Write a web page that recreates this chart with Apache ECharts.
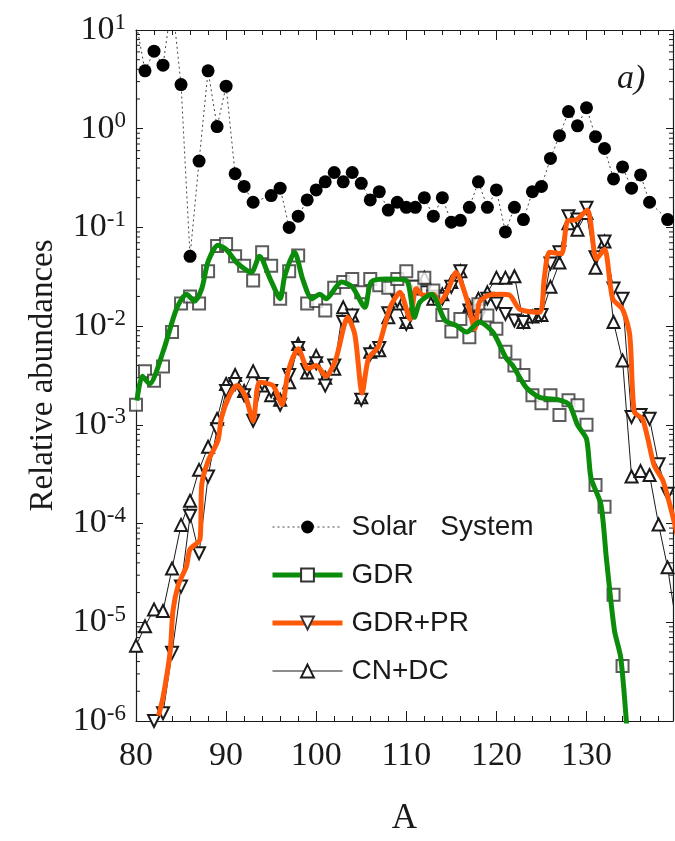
<!DOCTYPE html>
<html>
<head>
<meta charset="utf-8">
<script src="https://cdn.jsdelivr.net/npm/echarts@6/dist/echarts.min.js"></script>
<style>
  html, body { margin: 0; padding: 0; background: #fff; }
  #chart { width: 675px; height: 841px; }
</style>
</head>
<body>
<div id="chart"></div>
<script>
// mass numbers for consecutive runs
function range(a, b) {
    const out = [];
    for (let i = a; i <= b; i++) out.push(i);
    return out;
}

// Solar System abundances (80 and 84 are above the frame)
const solarA = [80, 81, 82, 83, 84, 85, 86, 87, 88, 89, 90, 91, 92, 93,
    95, 96, 97, 98, 99, 100, 101, 102, 103, 104, 105, 106, 107, 108, 109, 110,
    111, 112, 113, 114, 115, 116, 117, 118, 119, 120, 121, 122, 123, 124, 125,
    126, 127, 128, 129, 130, 131, 132, 133, 134, 135, 136, 137, 139, 140];
const solarV = [12, 3.86, 6.1, 4.4, 20, 2.8, 0.051, 0.47, 3.86, 1.05, 2.7, 0.35, 0.26, 0.18,
    0.21, 0.25, 0.10, 0.13, 0.19, 0.24, 0.29, 0.36, 0.29, 0.36, 0.28, 0.19, 0.23, 0.15, 0.18, 0.16,
    0.16, 0.20, 0.13, 0.20, 0.113, 0.118, 0.16, 0.29, 0.16, 0.24, 0.09, 0.16, 0.12, 0.23, 0.26,
    0.50, 0.85, 1.49, 1.07, 1.63, 0.83, 0.63, 0.31, 0.41, 0.25, 0.34, 0.18, 0.12, 0.095];

// GDR points (squares)
const gdrA = range(80, 134);
const gdrV = [1.6e-3, 3.5e-3, 2.8e-3, 3.9e-3, 8.7e-3, 0.017, 0.020, 0.017, 0.036, 0.065,
    0.068, 0.051, 0.041, 0.029, 0.056, 0.041, 0.019, 0.036, 0.052, 0.017,
    0.018, 0.0144, 0.0245, 0.028, 0.030, 0.022, 0.030, 0.026, 0.0245, 0.030,
    0.036, 0.025, 0.031, 0.023, 0.013, 0.0088, 0.0118, 0.0077, 0.0167, 0.0128,
    0.0094, 0.0055, 0.004, 0.0032, 0.002, 0.00166, 0.002, 0.00126, 0.00178, 0.00158,
    0.001, 2.46e-4, 1.48e-4, 1.9e-5, 3.6e-6];

// GDR curve (green)
const gdrLineA = [80.1, 80.7, 81.5, 83, 84.5, 85.6, 86.5, 87.3, 88, 89.1, 90, 91.3, 92.8, 93.7,
    94.9, 96, 96.5, 97.6, 98.5, 99.5, 100.4, 101.1, 102.8, 104, 105.4, 106.1, 107.8, 110,
    110.9, 111.5, 112.8, 114.3, 115.5, 116.7, 118.1, 119.6, 121.1, 121.8, 123.3, 124.8,
    127, 128.1, 129, 130, 130.5, 131.6, 132.2, 133.1, 133.8, 134.5];
const gdrLineV = [1.76e-3, 3.1e-3, 2.6e-3, 5.5e-3, 0.015, 0.021, 0.018, 0.024, 0.045, 0.066, 0.060, 0.043, 0.035, 0.051,
    0.030, 0.019, 0.032, 0.056, 0.030, 0.019, 0.021, 0.019, 0.028, 0.025, 0.0155, 0.028, 0.030, 0.029,
    0.0123, 0.0175, 0.021, 0.0114, 0.0102, 0.0087, 0.011, 0.0087, 0.0047, 0.004, 0.0024, 0.0019,
    0.00178, 0.0016, 0.001, 7.2e-4, 2.9e-4, 1.56e-4, 4.5e-5, 8.3e-6, 4.4e-6, 8e-7];

// GDR+PR points (down triangles)
const prA = range(82, 140);
const prV = [1.0e-6, 1.2e-6, 4.9e-6, 2.3e-5, 1.2e-4, 5e-5, 3e-4, 9e-4,
    2.2e-3, 2.6e-3, 2.0e-3, 1.1e-3, 2.6e-3, 2.2e-3, 1.6e-3, 3.2e-3, 6.0e-3, 3.6e-3,
    4.2e-3, 2.5e-3, 4.0e-3, 0.011, 0.0128, 1.8e-3, 5.2e-3, 6.0e-3, 0.0135, 0.018,
    0.0105, 0.025, 0.022, 0.020, 0.019, 0.025, 0.036, 0.0144, 0.012, 0.019,
    0.017, 0.0133, 0.0114, 0.011, 0.0125, 0.013, 0.043, 0.056, 0.13, 0.12,
    0.158, 0.05, 0.072, 0.024, 0.019, 1.2e-3, 1.26e-3, 1.15e-3, 4e-4, 2e-4, 8e-5];

// GDR+PR curve (orange)
const prLineA = [82.5, 83, 83.8, 84.1, 84.7, 85.6, 86, 87.1, 87.3, 88, 89.1, 89.5, 90.4, 91.2,
    92.1, 93, 93.7, 95.2, 96.2, 96.9, 98, 99.1, 100, 100.4, 101.1, 102.2, 103.5, 104.3,
    105.1, 105.8, 106.9, 108.2, 109.3, 110.4, 111.1, 111.9, 113, 113.7, 114.6, 115.5,
    116.7, 117.6, 118.1, 119.1, 120.4, 121.5, 122.6, 124.8, 125.3, 125.9, 127.2, 127.9,
    128.9, 130.1, 131.1, 132, 132.9, 134, 134.8, 135.3, 136.2, 136.8, 137.5, 138.5, 139.8, 140.5];
const prLineV = [1.13e-6, 1.74e-6, 5.1e-6, 1.3e-5, 2.4e-5, 3.7e-5, 5.5e-5, 6.9e-5, 2.5e-4, 4.3e-4, 7e-4, 1.2e-3, 2.0e-3, 2.5e-3,
    2.0e-3, 1.1e-3, 2.7e-3, 2.5e-3, 1.6e-3, 3.5e-3, 5.9e-3, 3.7e-3, 4.0e-3, 3.7e-3, 3.1e-3, 4.7e-3, 0.0123, 0.0081,
    2.1e-3, 4.7e-3, 6.2e-3, 0.0155, 0.022, 0.0118, 0.024, 0.0205, 0.021, 0.0174, 0.023, 0.035,
    0.019, 0.0094, 0.0174, 0.0205, 0.021, 0.0205, 0.0148, 0.0138, 0.030, 0.056, 0.054, 0.117,
    0.12, 0.15, 0.048, 0.060, 0.019, 0.0148, 8.1e-3, 1.35e-3, 1.15e-3, 7.3e-4, 3.9e-4, 2.7e-4, 9.8e-5, 5e-5];

// CN+DC points (up triangles)
const cnA = range(80, 140);
const cnV = [5.8e-6, 9.1e-6, 1.35e-5, 1.3e-5, 3.5e-5, 9.7e-5, 1.7e-4, 3.5e-4, 6e-4, 1.15e-3,
    2.6e-3, 3.2e-3, 2.2e-3, 3.5e-3, 2.5e-3, 2.0e-3, 1.8e-3, 2.7e-3, 6.6e-3, 3.4e-3,
    5.0e-3, 3.0e-3, 3.7e-3, 0.0155, 0.0128, 1.9e-3, 5.5e-3, 5.7e-3, 0.0123, 0.017,
    0.011, 0.024, 0.031, 0.019, 0.021, 0.028, 0.036, 0.016, 0.019, 0.022,
    0.031, 0.031, 0.032, 0.011, 0.0125, 0.013, 0.025, 0.044, 0.11, 0.095,
    0.14, 0.039, 0.072, 0.011, 4.5e-3, 3.0e-4, 3.4e-4, 3.1e-4, 9.8e-5, 3.6e-5, 9e-6];

// minor tick positions on the log axis (2..9 x 10^n)
const minorLogTicks = [];
for (let n = -6; n <= 0; n++) {
    for (let k = 2; k <= 9; k++) minorLogTicks.push([80, k * Math.pow(10, n)]);
}

function zip(xs, ys) {
    return xs.map((x, i) => [x, ys[i]]);
}

const serif = '"Liberation Serif", "DejaVu Serif", serif';
const sans = '"Liberation Sans", Arial, sans-serif';
const ink = '#1a1a1a';
const green = '#0b8c0b';
const orange = '#ff5a0a';

const chart = echarts.init(document.getElementById('chart'));

const option = {
    backgroundColor: '#fff',
    animation: false,
    grid: { left: 136, top: 30, right: 2, bottom: 117 },
    xAxis: [{
        type: 'value',
        min: 80,
        max: 139.6,
        interval: 10,
        name: 'A',
        nameLocation: 'middle',
        nameGap: 80,
        nameTextStyle: { fontFamily: serif, fontSize: 35, color: ink },
        axisLine: { lineStyle: { color: ink, width: 1.2 } },
        axisTick: { inside: true, length: 10, lineStyle: { color: ink } },
        minorTick: { show: true, splitNumber: 5, length: 5, lineStyle: { color: ink } },
        axisLabel: {
            margin: 18, fontFamily: serif, fontSize: 34, color: ink,
            showMaxLabel: false,
            formatter: v => (v % 10 === 0 ? String(v) : '')
        },
        splitLine: { show: false }
    }, {
        type: 'value',
        position: 'top',
        min: 80,
        max: 139.6,
        interval: 10,
        axisLine: { show: true, lineStyle: { color: ink, width: 1.2 } },
        axisTick: { inside: true, length: 10, lineStyle: { color: ink } },
        minorTick: { show: true, splitNumber: 5, length: 5, lineStyle: { color: ink } },
        axisLabel: { show: false },
        splitLine: { show: false }
    }],
    yAxis: [{
        type: 'log',
        logBase: 10,
        min: 1e-6,
        max: 10,
        name: 'Relative abundances',
        nameLocation: 'middle',
        nameGap: 76,
        nameTextStyle: { fontFamily: serif, fontSize: 33, color: ink },
        axisLine: { show: true, lineStyle: { color: ink, width: 1.2 } },
        axisTick: { inside: true, length: 7, lineStyle: { color: ink } },
        axisLabel: {
            margin: 10,
            formatter: function (v) {
                const n = Math.round(Math.log10(v));
                return '{b|10}{e|' + n + '}';
            },
            rich: {
                b: { fontFamily: serif, fontSize: 34, lineHeight: 38, color: ink },
                e: { fontFamily: serif, fontSize: 23, lineHeight: 18, verticalAlign: 'top', color: ink }
            }
        },
        splitLine: { show: false }
    }, {
        type: 'log',
        logBase: 10,
        min: 1e-6,
        max: 10,
        position: 'right',
        axisLine: { show: true, lineStyle: { color: ink, width: 1.2 } },
        axisTick: { inside: true, length: 7, lineStyle: { color: ink } },
        axisLabel: { show: false },
        splitLine: { show: false }
    }],
    legend: {
        orient: 'vertical',
        left: 265,
        top: 508,
        itemWidth: 70,
        itemHeight: 16,
        itemGap: 20,
        selectedMode: false,
        textStyle: { fontFamily: sans, fontSize: 28, color: ink, padding: [0, 0, 0, 4] },
        lineStyle: { width: 'inherit' },
        formatter: n => (n === 'Solar System' ? 'Solar   System' : n),
        data: [
            { name: 'Solar System' },
            { name: 'GDR', itemStyle: { color: '#333' } },
            { name: 'GDR+PR', itemStyle: { color: '#333' } },
            { name: 'CN+DC' }
        ]
    },
    graphic: [{
        type: 'text',
        left: 617,
        top: 62,
        style: { text: 'a)', font: 'italic 34px ' + serif, fill: ink }
    }],
    series: [
        {
            name: 'CN+DC',
            type: 'line',
            data: zip(cnA, cnV),
            symbol: 'emptyTriangle',
            symbolSize: 12,
            lineStyle: { color: ink, width: 1 },
            itemStyle: { color: ink, borderWidth: 1.2 },
            z: 2
        },
        {
            name: 'GDR+PR points',
            type: 'line',
            data: zip(prA, prV),
            symbol: 'emptyTriangle',
            symbolRotate: 180,
            symbolSize: 12,
            lineStyle: { color: ink, width: 1 },
            itemStyle: { color: ink, borderWidth: 1.2 },
            z: 2
        },
        {
            name: 'GDR points',
            type: 'scatter',
            data: zip(gdrA, gdrV),
            symbol: 'emptyRect',
            symbolSize: 12,
            itemStyle: { color: '#333', borderWidth: 1.2 },
            z: 2
        },
        {
            name: 'Solar System',
            type: 'line',
            data: zip(solarA, solarV),
            symbol: 'circle',
            symbolSize: 13,
            lineStyle: { color: '#444', width: 1, type: [2, 3] },
            itemStyle: { color: '#000' },
            z: 3
        },
        {
            name: 'GDR+PR',
            type: 'line',
            data: zip(prLineA, prLineV),
            showSymbol: false,
            symbol: 'emptyTriangle',
            symbolRotate: 180,
            smooth: 0.25,
            lineStyle: { color: orange, width: 5 },
            itemStyle: { color: orange },
            z: 5
        },
        {
            name: 'GDR',
            type: 'line',
            data: zip(gdrLineA, gdrLineV),
            showSymbol: false,
            symbol: 'emptyRect',
            smooth: 0.25,
            lineStyle: { color: green, width: 5 },
            itemStyle: { color: green },
            z: 6
        },
        {
            name: 'minor ticks',
            type: 'custom',
            silent: true,
            clip: false,
            data: minorLogTicks,
            renderItem: function (params, api) {
                const p = api.coord([api.value(0), api.value(1)]);
                const cs = params.coordSys;
                const st = { stroke: ink, lineWidth: 1 };
                return {
                    type: 'group',
                    children: [
                        { type: 'line', shape: { x1: cs.x, y1: p[1], x2: cs.x + 4, y2: p[1] }, style: st },
                        { type: 'line', shape: { x1: cs.x + cs.width - 4, y1: p[1], x2: cs.x + cs.width, y2: p[1] }, style: st }
                    ]
                };
            },
            z: 1
        }
    ]
};

chart.setOption(option);
</script>
</body>
</html>
